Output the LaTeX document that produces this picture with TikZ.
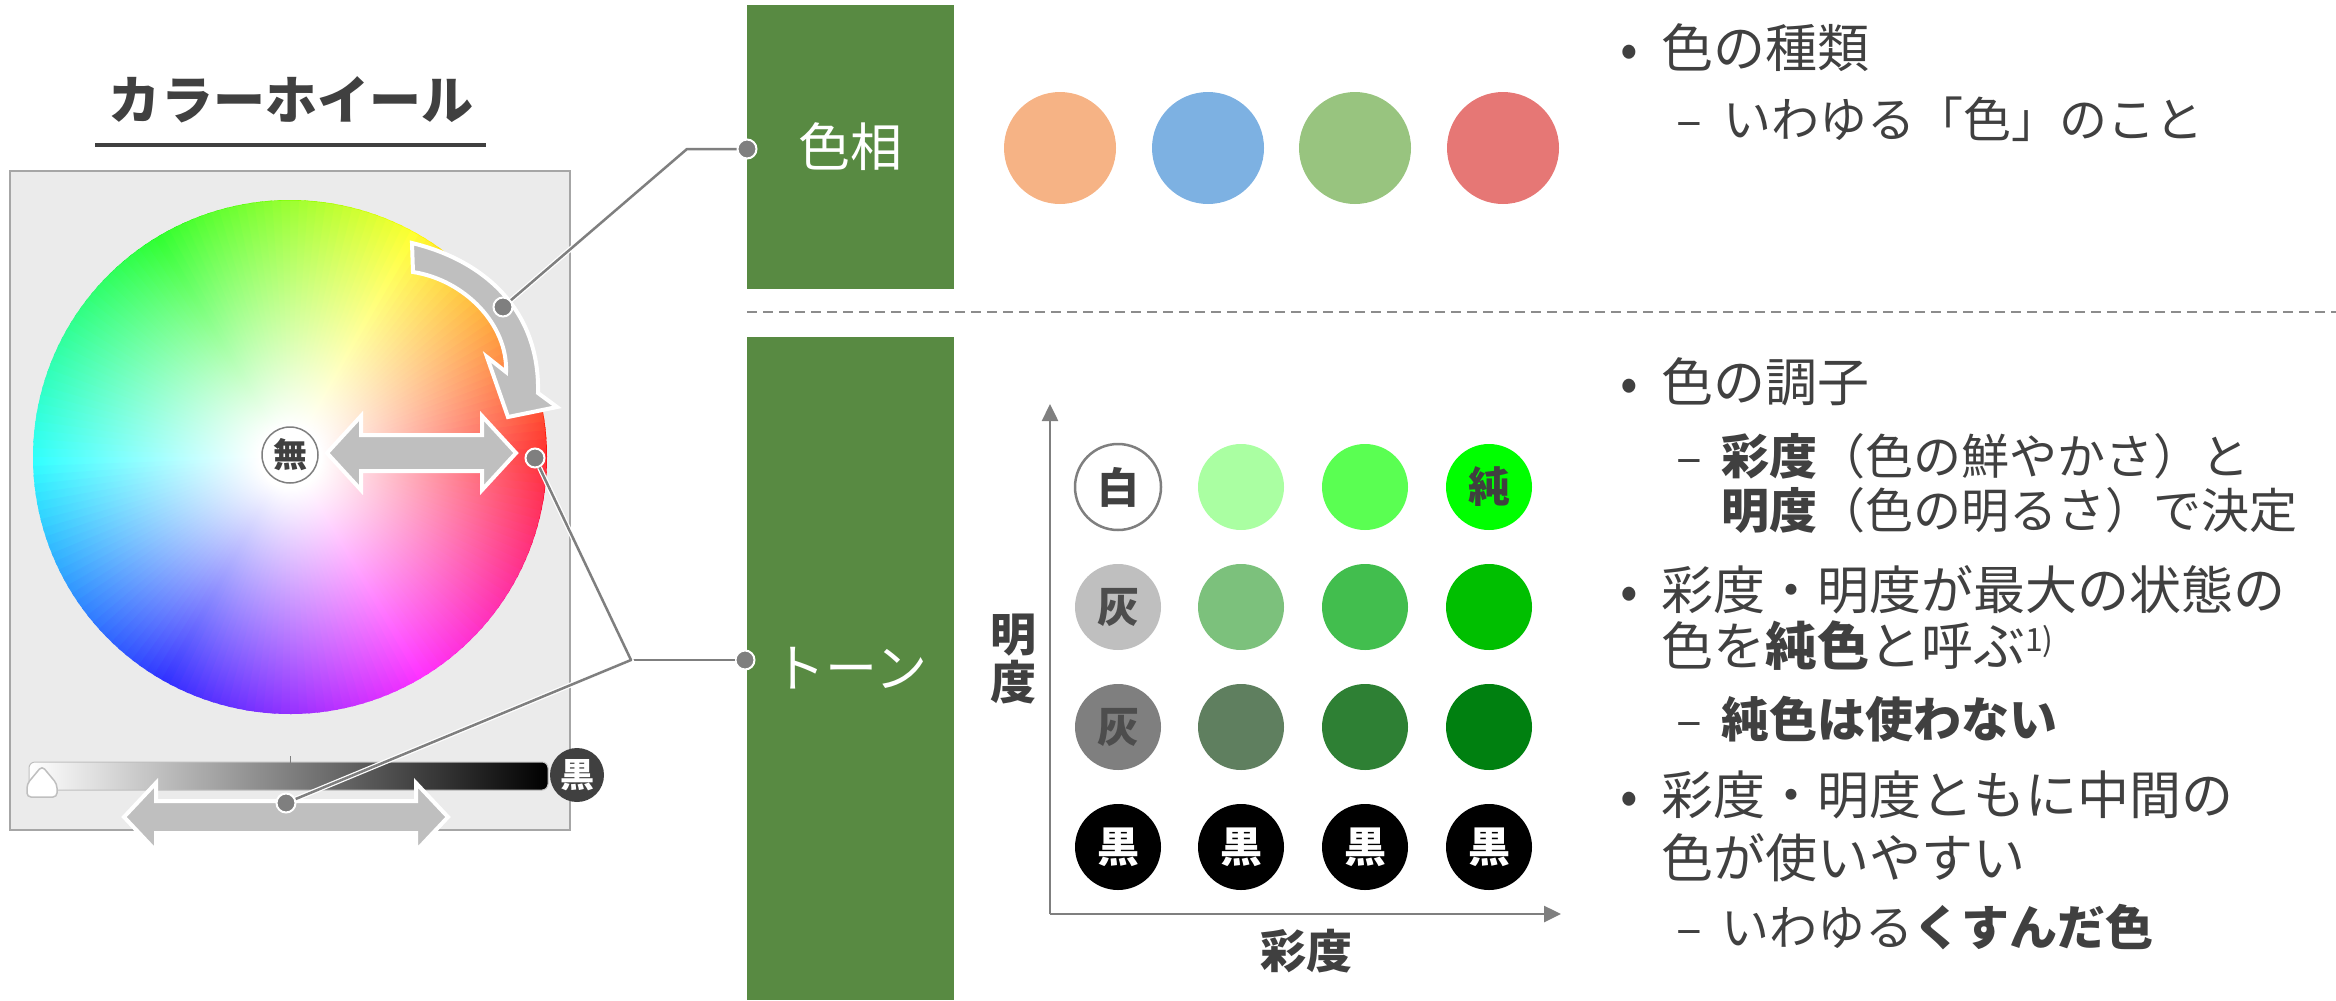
\documentclass[tikz,border=0pt]{standalone}
\usepackage{fontspec}
\setmainfont{Noto Sans CJK JP}
\usetikzlibrary{arrows.meta,fadings}
\definecolor{tgray}{HTML}{404040}
\definecolor{boxgreen}{HTML}{588A42}
\definecolor{lgray}{HTML}{BFBFBF}
\definecolor{mgray}{HTML}{7F7F7F}
\definecolor{panel}{HTML}{EBEBEB}
\definecolor{panelline}{HTML}{A6A6A6}
\definecolor{dashgray}{HTML}{8C8C8C}
\definecolor{hOrange}{HTML}{F6B385}
\definecolor{hBlue}{HTML}{7DB1E2}
\definecolor{hGreen}{HTML}{98C47F}
\definecolor{hRed}{HTML}{E67775}
\definecolor{gA1}{HTML}{AAFFA2}
\definecolor{gA2}{HTML}{5AFF52}
\definecolor{gA3}{HTML}{00FF00}
\definecolor{gB1}{HTML}{7CC17C}
\definecolor{gB2}{HTML}{42BE4E}
\definecolor{gB3}{HTML}{00BF00}
\definecolor{gC1}{HTML}{5F7F5F}
\definecolor{gC2}{HTML}{2E8034}
\definecolor{gC3}{HTML}{008010}
\definecolor{grayA}{HTML}{BFBFBF}
\definecolor{grayB}{HTML}{7F7F7F}
\definecolor{labgray}{HTML}{4D4D4D}
\pgfdeclareradialshading{wheelmask}{\pgfpointorigin}{color(0bp)=(white); color(3bp)=(white); color(30bp)=(black); color(50bp)=(black)}
\pgfdeclarefading{wheelfade}{\pgfuseshading{wheelmask}}
\newcommand{\fsz}[2]{\fontsize{#1bp}{#2bp}\selectfont}
\tikzset{
  lvA/.style={anchor=base west, inner sep=0pt, text=tgray, font=\fsz{52}{62}},
  lvB/.style={anchor=base west, inner sep=0pt, text=tgray, font=\fsz{48}{58}},
  bulA/.style={anchor=base, inner sep=0pt, text=tgray, font=\fsz{52}{62}},
  bulB/.style={anchor=base, inner sep=0pt, text=tgray, font=\fsz{48}{58}},
  cdot/.style={circle, fill=mgray, draw=white, line width=2bp, minimum size=19bp, inner sep=0pt},
  cline/.style={draw=mgray, line width=2.5bp, line join=round, preaction={draw=white, line width=5bp}},
  garrow/.style={fill=lgray, draw=white, line width=4bp, line join=miter},
  gbox/.style={fill=boxgreen, draw=none, text=white, inner sep=0pt, minimum width=207bp, font=\fsz{52}{62}},
  huedisc/.style={circle, minimum size=112bp, inner sep=0pt, draw=none},
  tonedisc/.style={circle, minimum size=86bp, inner sep=0pt, draw=none, font=\bfseries\fsz{42}{42}},
  axlab/.style={inner sep=0pt, text=tgray, font=\bfseries\fsz{46}{48}, align=center},
  axline/.style={draw=mgray, line width=2.5bp, -{Triangle[length=17bp,width=16bp]}},
}
\begin{document}
\begin{tikzpicture}[x=1bp,y=-1bp]
\useasboundingbox (0,0) rectangle (2336,1000);
% ---------- colour wheel panel ----------
\node[inner sep=0pt, text=tgray, font=\bfseries\fsz{52}{62}] (title) at (291,100) {カラーホイール};
\draw[tgray, line width=4bp] (95,145) -- (486,145);
\filldraw[fill=panel, draw=panelline, line width=1.5bp] (10,171) rectangle (570,830);
\foreach \h in {0,2,...,358}{
  \definecolor{hc}{Hsb}{\h,1,1}
  \fill[hc] (290,457) -- ++(-\h:257) arc[start angle=-\h, end angle=-\h-2.8, radius=257] -- cycle;
}
\fill[white, path fading=wheelfade] (290,457) circle (257);
% hue arrow
\path[garrow] (412,243) .. controls (490,262) and (540,315) .. (538,393) -- (557,407) -- (508,417) -- (487,357) -- (506,372) .. controls (508,325) and (465,280) .. (413,272) -- cycle;
% saturation double arrow
\path[garrow] (327,453) -- (361,416) -- (361,435) -- (482,435) -- (482,416) -- (516,453) -- (482,490) -- (482,471) -- (361,471) -- (361,490) -- cycle;
\node[circle, fill=white, draw=mgray, line width=1.5bp, minimum size=56bp, inner sep=0pt, text=tgray, font=\bfseries\fsz{34}{34}] (mu) at (290,455) {無};
% brightness slider
\shade[left color=white, right color=black, rounded corners=6bp] (29,762) rectangle (548,790);
\draw[lgray, line width=1bp, rounded corners=6bp] (29,762) rectangle (548,790);
\draw[mgray, line width=1bp] (290,756) -- (290,765);
\filldraw[fill=white, draw=lgray, line width=1.5bp, rounded corners=4bp] (42,766) -- (57,784) -- (57,797) -- (27,797) -- (27,784) -- cycle;
\node[circle, fill=tgray, minimum size=54bp, inner sep=0pt, text=white, font=\bfseries\fsz{34}{34}] (kuro) at (577,775) {黒};
\path[garrow] (124,817) -- (156,783) -- (156,801) -- (416,801) -- (416,783) -- (448,817) -- (416,851) -- (416,833) -- (156,833) -- (156,851) -- cycle;
% ---------- green labels ----------
\node[gbox, minimum height=284bp] (bhue) at (850.5,147) {色相};
\node[gbox, minimum height=663bp] (btone) at (850.5,668.5) {トーン};
% ---------- connectors ----------
\node[cdot] (dhueL) at (747,149) {};
\node[cdot] (dhueA) at (503,307) {};
\node[cdot] (dtoneL) at (745,660) {};
\node[cdot] (dred) at (535,458) {};
\node[cdot] (dbar) at (286,803) {};
\coordinate (ehue) at (687,149);
\coordinate (etone) at (631,660);
\draw[cline] (dhueL) -- (ehue) -- (dhueA);
\draw[cline] (dtoneL) -- (etone);
\draw[cline] (dred) -- (etone) -- (dbar);
% ---------- hue samples ----------
\node[huedisc, fill=hOrange] (hc1) at (1060,148) {};
\node[huedisc, fill=hBlue] (hc2) at (1208,148) {};
\node[huedisc, fill=hGreen] (hc3) at (1355,148) {};
\node[huedisc, fill=hRed] (hc4) at (1503,148) {};
\coordinate (dsA) at (747,312);
\coordinate (dsB) at (2336,312);
\draw[dashgray, line width=2.5bp, dash pattern=on 10bp off 6bp] (dsA) -- (dsB);
% ---------- tone grid ----------
\coordinate (ax0) at (1050,914);
\coordinate (axY) at (1050,404);
\coordinate (axX) at (1561,914);
\draw[axline] (ax0) -- (axY);
\draw[axline] (ax0) -- (axX);
\node[tonedisc, fill=white, draw=mgray, line width=2.5bp, text=tgray] (t11) at (1118,487) {白};
\node[tonedisc, fill=gA1] (t12) at (1241,487) {};
\node[tonedisc, fill=gA2] (t13) at (1365,487) {};
\node[tonedisc, fill=gA3, text=tgray] (t14) at (1489,487) {純};
\node[tonedisc, fill=grayA, text=labgray] (t21) at (1118,607) {灰};
\node[tonedisc, fill=gB1] (t22) at (1241,607) {};
\node[tonedisc, fill=gB2] (t23) at (1365,607) {};
\node[tonedisc, fill=gB3] (t24) at (1489,607) {};
\node[tonedisc, fill=grayB, text=labgray] (t31) at (1118,727) {灰};
\node[tonedisc, fill=gC1] (t32) at (1241,727) {};
\node[tonedisc, fill=gC2] (t33) at (1365,727) {};
\node[tonedisc, fill=gC3] (t34) at (1489,727) {};
\node[tonedisc, fill=black, text=white] (t41) at (1118,847) {黒};
\node[tonedisc, fill=black, text=white] (t42) at (1241,847) {黒};
\node[tonedisc, fill=black, text=white] (t43) at (1365,847) {黒};
\node[tonedisc, fill=black, text=white] (t44) at (1489,847) {黒};
\node[axlab] (lbY) at (1013,659) {明\\度};
\node[axlab] (lbX) at (1306,951) {彩度};
% ---------- bullet text ----------
\node[bulA] (b1) at (1629,67) {•};
\node[lvA] (l1) at (1661,67) {色の種類};
\node[bulB] (d1) at (1689,137) {–};
\node[lvB] (l2) at (1723,137) {いわゆる「色」のこと};
\node[bulA] (b2) at (1629,401) {•};
\node[lvA] (l3) at (1661,401) {色の調子};
\node[bulB] (d2) at (1689,474) {–};
\node[lvB] (l4) at (1721,474) {{\bfseries 彩度}（色の鮮やかさ）と};
\node[lvB] (l5) at (1721,528) {{\bfseries 明度}（色の明るさ）で決定};
\node[bulA] (b3) at (1629,609) {•};
\node[lvA] (l6) at (1661,609) {彩度・明度が最大の状態の};
\node[lvA] (l7) at (1661,665) {色を{\bfseries 純色}と呼ぶ{\fsz{32}{32}\raisebox{14bp}{1)}}};
\node[bulB] (d3) at (1689,737) {–};
\node[lvB] (l8) at (1721,737) {\bfseries 純色は使わない};
\node[bulA] (b4) at (1629,814) {•};
\node[lvA] (l9) at (1661,814) {彩度・明度ともに中間の};
\node[lvA] (l10) at (1661,877) {色が使いやすい};
\node[bulB] (d4) at (1689,945) {–};
\node[lvB] (l11) at (1721,945) {いわゆる{\bfseries くすんだ色}};
\end{tikzpicture}
\end{document}
